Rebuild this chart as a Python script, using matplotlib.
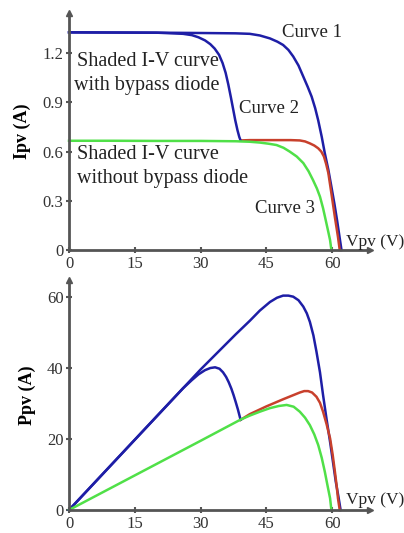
import matplotlib
matplotlib.use('Agg')
import matplotlib.pyplot as plt

plt.rcParams['font.family'] = ['Liberation Serif', 'DejaVu Serif']

# I-V curves
v_c1 = [0, 10, 20, 30, 38, 41.2, 43.5, 45.8, 47.5, 48.8, 50, 51.1, 52.3, 53.4, 54.4, 55.3, 56.1,
        56.8, 57.6, 58.3, 59.1, 59.8, 60.5, 61.1, 61.6, 62.1]
i_c1 = [1.327, 1.326, 1.325, 1.323, 1.321, 1.318, 1.308, 1.29, 1.27, 1.25, 1.22, 1.18, 1.125, 1.057,
        0.995, 0.935, 0.865, 0.79, 0.69, 0.59, 0.49, 0.386, 0.28, 0.18, 0.09, 0]
v_c2 = [0, 10, 20, 26, 28, 29.5, 31, 32.2, 33.2, 34.2, 35, 35.7, 36.3, 36.9, 37.4, 37.9, 38.4, 38.8, 39.1]
i_c2 = [1.327, 1.326, 1.325, 1.318, 1.31, 1.297, 1.278, 1.255, 1.228, 1.19, 1.14, 1.08, 1.01, 0.93,
        0.86, 0.79, 0.73, 0.69, 0.668]
v_red = [39.1, 41.2, 45, 48, 50.5, 52.6, 53.8, 54.9, 55.9, 56.8, 57.5, 58.1, 58.6, 59.1, 59.8,
         60.6, 61.3, 61.7]
i_red = [0.668, 0.67, 0.67, 0.67, 0.67, 0.668, 0.662, 0.65, 0.637, 0.62, 0.6, 0.57, 0.525, 0.47,
         0.346, 0.2, 0.08, 0]
v_c3 = [0, 10, 20, 30, 38, 41.2, 43.5, 45.5, 47.3, 48.9, 50.3, 51.9, 53.4, 54.6, 55.6, 56.5, 57.2,
        57.9, 58.5, 59.1, 59.5, 59.8]
i_c3 = [0.666, 0.666, 0.665, 0.665, 0.663, 0.66, 0.655, 0.648, 0.64, 0.623, 0.6, 0.57, 0.53, 0.48,
        0.427, 0.375, 0.325, 0.255, 0.183, 0.11, 0.06, 0]

# P-V curves
pv_c1 = [0, 10, 20, 30, 38, 41.2, 43.5, 45.8, 47.4, 48.8, 50, 51.1, 52.3, 53.4, 54.2, 54.9, 55.7,
         56.4, 57.2, 57.9, 58.7, 59.5, 60.2, 60.8, 61.4, 61.9]
p_c1 = [0, 13.2, 26.4, 39.6, 49.5, 53.3, 56.2, 58.6, 59.8, 60.4, 60.4, 60.1, 59.1, 57.3, 55.4, 53,
        49.2, 44.6, 38.8, 32.4, 25.6, 19.2, 13.2, 8, 3.8, 0]
pv_c2 = [0, 10, 20, 26, 28, 29.5, 31, 32.2, 33.3, 34.3, 35.1, 35.8, 36.4, 37, 37.5, 38, 38.5, 38.9, 39.1]
p_c2 = [0, 13.2, 26.4, 34.3, 36.6, 38.2, 39.4, 40, 40.2, 39.8, 38.8, 37.5, 36, 34.2, 32.4, 30.4,
        28.3, 26.4, 25.4]
pv_red = [39.1, 41.2, 45, 48.8, 51, 52.6, 53.6, 54.5, 55.4, 56.4, 57.2, 57.9, 58.7, 59.5, 60.1,
          60.6, 61, 61.3, 61.7]
p_red = [25.4, 27.0, 29.2, 31.2, 32.3, 33.1, 33.5, 33.5, 33.1, 31.9, 30.2, 27.7, 24.2, 20.2, 15.5,
         10.8, 6.8, 3.3, 0]
pv_c3 = [0, 10, 20, 30, 39, 41.2, 43.5, 45.8, 47.8, 49.6, 51.2, 52.6, 53.8, 54.9, 55.9, 56.8, 57.6,
         58.3, 58.9, 59.5, 59.8]
p_c3 = [0, 6.5, 13.0, 19.5, 25.4, 26.6, 27.7, 28.7, 29.3, 29.6, 29.1, 27.7, 26, 23.9, 21.3, 18.3,
        14.7, 10.8, 7, 3.3, 0]

x_ticks = [0, 15, 30, 45, 60]
i_ticks = [0, 0.3, 0.6, 0.9, 1.2]
i_tick_labels = ['0', '0.3', '0.6', '0.9', '1.2']
p_ticks = [0, 20, 40, 60]

blue = '#1e1ea6'
red = '#c8402c'
green = '#50e048'
axis_col = '#555555'
W, H = 404, 533

fig = plt.figure(figsize=(W / 100, H / 100), dpi=100)
fig.patch.set_facecolor('white')


def style(ax, ylim, yticks, ylabels, ylabel, vlabel_y):
    ax.set_xlim(0, 68.6)
    ax.set_ylim(*ylim)
    for s in ['top', 'right']:
        ax.spines[s].set_visible(False)
    for s in ['left', 'bottom']:
        ax.spines[s].set_color(axis_col)
        ax.spines[s].set_linewidth(2)
    ax.set_xticks(x_ticks)
    ax.set_xticklabels([str(t) for t in x_ticks])
    ax.set_yticks(yticks)
    ax.set_yticklabels(ylabels)
    ax.tick_params(direction='inout', length=4, width=1.5, color=axis_col,
                   labelsize=12, labelcolor='#333333', pad=2)
    ax.plot(1, 0, '>', color=axis_col, ms=5, transform=ax.transAxes, clip_on=False)
    ax.plot(0, 1, '^', color=axis_col, ms=5, transform=ax.transAxes, clip_on=False)
    ax.set_ylabel(ylabel, fontsize=13, fontweight='bold', labelpad=8)
    ax.text(63.2, vlabel_y, 'Vpv (V)', fontsize=12.5, ha='left', va='center',
            color='#222222', clip_on=False)


# top: I-V
ax1 = fig.add_axes([69 / W, (H - 250) / H, 301 / W, 237 / H])
style(ax1, (0, 1.445), i_ticks, i_tick_labels, 'Ipv (A)', 0.05)
ax1.plot(v_c1, i_c1, color=blue, lw=1.8, clip_on=False)
ax1.plot(v_red, i_red, color=red, lw=1.8, clip_on=False)
ax1.plot(v_c2, i_c2, color=blue, lw=1.8, clip_on=False)
ax1.plot(v_c3, i_c3, color=green, lw=1.8, clip_on=False)
tk = dict(fontsize=13.5, color='#222222', va='center')
sk = dict(fontsize=14.5, color='#222222', va='center')
ax1.text(48.5, 1.325, 'Curve 1', **tk)
ax1.text(1.8, 1.15, 'Shaded I-V curve', **sk)
ax1.text(1.1, 1.005, 'with bypass diode', **sk)
ax1.text(38.8, 0.865, 'Curve 2', **tk)
ax1.text(1.8, 0.58, 'Shaded I-V curve', **sk)
ax1.text(1.8, 0.435, 'without bypass diode', **sk)
ax1.text(42.5, 0.255, 'Curve 3', **tk)

# bottom: P-V
ax2 = fig.add_axes([69 / W, (H - 510) / H, 301 / W, 230 / H])
style(ax2, (0, 64.8), p_ticks, [str(t) for t in p_ticks], 'Ppv (A)', 2.8)
ax2.plot(pv_c1, p_c1, color=blue, lw=1.8, clip_on=False)
ax2.plot(pv_red, p_red, color=red, lw=1.8, clip_on=False)
ax2.plot(pv_c2, p_c2, color=blue, lw=1.8, clip_on=False)
ax2.plot(pv_c3, p_c3, color=green, lw=1.8, clip_on=False)

fig.savefig('out.png', dpi=100)
